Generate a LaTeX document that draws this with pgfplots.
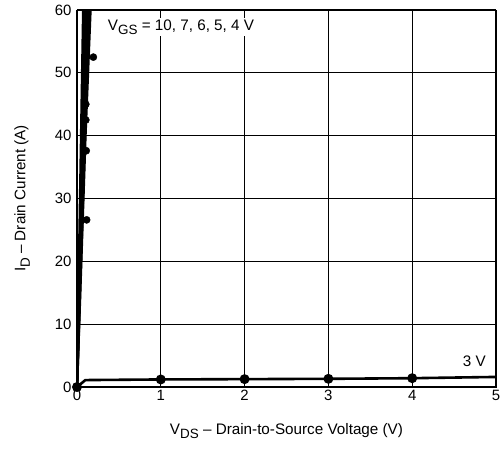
\documentclass[border=0pt]{standalone}
\usepackage{pgfplots}
\pgfplotsset{compat=1.18}
\usepackage{fontspec}
\setmainfont{Liberation Sans}
\newcommand\sub[1]{\raisebox{-0.55ex}{\fontsize{13.5}{13.5}\selectfont #1}}
\begin{document}
\begin{tikzpicture}
\begin{axis}[
  scale only axis, width=419bp, height=377bp,
  xmin=0, xmax=5, ymin=0, ymax=60,
  xtick={0,1,2,3,4,5}, ytick={0,10,20,30,40,50,60},
  grid=major, major grid style={black, line width=1.3bp},
  axis line style={black, line width=0.9bp},
  major tick length=0pt,
  /pgf/number format/assume math mode=true,
  tick label style={font=\fontsize{15}{17}\selectfont},
  yticklabel style={xshift=-2bp},
  label style={font=\fontsize{15.3}{17}\selectfont},
  xlabel={V\sub{DS} – Drain-to-Source Voltage (V)},
  ylabel={I\sub{D} – Drain Current (A)},
  xlabel style={at={(axis description cs:0.5,-0.117)}, anchor=center},
  ylabel style={at={(axis description cs:-0.131,0.5)}, anchor=center},
  clip=true,
]
% V_GS = 10, 7, 6, 5, 4 V (steep bundle)
\addplot[black, line width=2.6bp] coordinates {(0,0) (0.075,60)};
\addplot[black, line width=2.6bp] coordinates {(0,0) (0.095,60)};
\addplot[black, line width=2.6bp] coordinates {(0,0) (0.115,60)};
\addplot[black, line width=2.6bp] coordinates {(0,0) (0.14,60)};
\addplot[black, line width=2.6bp] coordinates {(0,0) (0.1,40) (0.16,60)};
\addplot[black, only marks, mark=*, mark size=3.6bp] coordinates {
  (0.115,26.6) (0.11,37.6) (0.105,42.5) (0.105,45) (0.195,52.5)};
% V_GS = 3 V
\addplot[black, line width=2.6bp, mark=*, mark size=3.6bp,
  mark indices={1,3,4,5,6}] coordinates {
  (0,0) (0.1,1.1) (1,1.2) (2,1.25) (3,1.3) (4,1.4) (5,1.6)};
\node[anchor=base west, fill=white, inner sep=1bp, font=\fontsize{15.3}{17}\selectfont]
  at (axis cs:0.355,56.8) {V\sub{GS} = 10, 7, 6, 5, 4 V};
\node[anchor=base east, inner sep=0bp, font=\fontsize{15.3}{17}\selectfont]
  at (axis cs:4.88,3.2) {3 V};
\end{axis}
\pgfresetboundingbox
\path ([shift={(-77bp,-62bp)}]current axis.south west)
  rectangle ([shift={(4bp,10bp)}]current axis.north east);
\end{tikzpicture}
\end{document}
